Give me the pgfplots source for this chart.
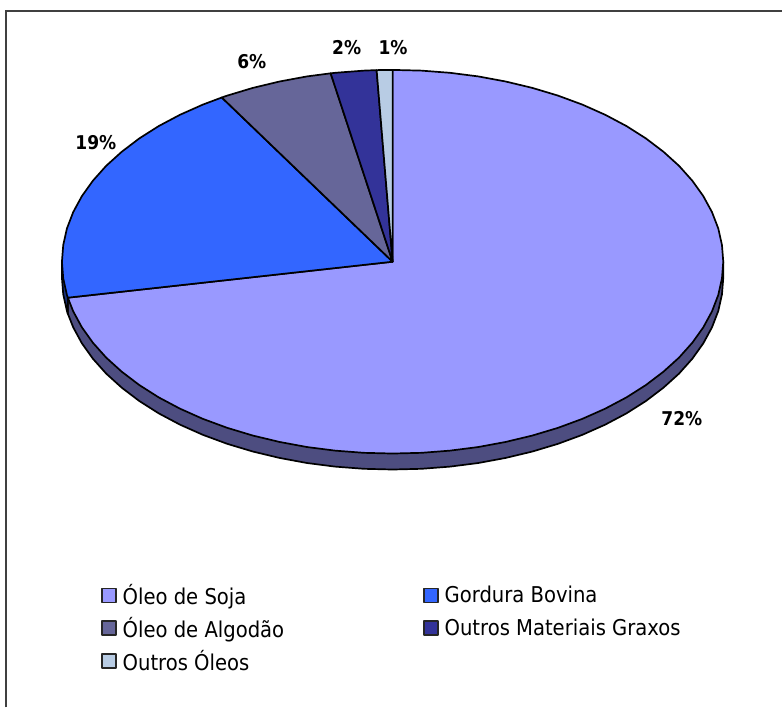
\documentclass[border=0pt]{standalone}
\usepackage{fontspec}
\setmainfont{DejaVu Sans Condensed}
\usepackage{pgfplots}
\pgfplotsset{compat=1.18}

\definecolor{soja}{HTML}{9999FF}
\definecolor{bovina}{HTML}{3366FF}
\definecolor{algodao}{HTML}{666699}
\definecolor{graxos}{HTML}{333399}
\definecolor{oleos}{HTML}{B8CCE4}
\definecolor{sojaside}{HTML}{4D4D80}
\definecolor{bovinaside}{HTML}{1A3380}

\begin{document}
\begin{tikzpicture}
\begin{axis}[
    scale only axis,
    width=783pt,
    height=708pt,
    xmin=0, xmax=783,
    ymin=0, ymax=708,
    hide axis,
    clip=false,
    legend columns=2,
    legend cell align=left,
    legend style={
        at={(axis cs:98,127)}, anchor=north west,
        draw=none, fill=none,
        font=\fontsize{21.8}{24}\selectfont,
        /tikz/every even column/.append style={column sep=133pt},
        row sep=7pt,
        nodes={inner xsep=6pt},
    },
    legend image code/.code={
        \draw[#1, draw=black!85, line width=1.6pt] (0pt,-7pt) rectangle (14pt,7pt);
    },
    every axis plot/.append style={draw=black, line width=1.7pt, line join=round},
]
% side of the disc, under the top face
\addplot[fill=sojaside, forget plot] coordinates {
    (724,446) (724,430) (722.7,413.3) (719,396.7) (712.7,380.3) (704,364.3) (693,348.9)
    (679.7,334) (664.1,319.9) (646.6,306.6) (627.1,294.2) (605.8,282.9) (582.9,272.7)
    (558.5,263.7) (532.9,256) (506.2,249.6) (478.7,244.5) (450.5,240.9) (421.8,238.7)
    (393,238) (364.2,238.7) (335.5,240.9) (307.3,244.5) (279.8,249.6) (253.1,256)
    (227.5,263.7) (203.1,272.7) (180.2,282.9) (158.9,294.2) (139.4,306.6) (121.9,319.9)
    (106.3,334) (93,348.9) (82,364.3) (73.3,380.3) (67.9,394) (67.9,410) (393,446)
} -- cycle;
\addplot[fill=bovinaside, forget plot] coordinates {
    (67.9,410) (67.9,394) (67,396.7) (63.3,413.3) (62,430) (62,446) (393,446)
} -- cycle;
% top face
\addplot[fill=soja] coordinates {
    (393,446) (393,638) (421.8,637.3) (450.5,635.1) (478.7,631.5) (506.2,626.4) (532.9,620)
    (558.5,612.3) (582.9,603.3) (605.8,593.1) (627.1,581.8) (646.6,569.4) (664.1,556.1)
    (679.7,542) (693,527.1) (704,511.7) (712.7,495.7) (719,479.3) (722.7,462.7) (724,446)
    (722.7,429.3) (719,412.7) (712.7,396.3) (704,380.3) (693,364.9) (679.7,350) (664.1,335.9)
    (646.6,322.6) (627.1,310.2) (605.8,298.9) (582.9,288.7) (558.5,279.7) (532.9,272)
    (506.2,265.6) (478.7,260.5) (450.5,256.9) (421.8,254.7) (393,254) (364.2,254.7)
    (335.5,256.9) (307.3,260.5) (279.8,265.6) (253.1,272) (227.5,279.7) (203.1,288.7)
    (180.2,298.9) (158.9,310.2) (139.4,322.6) (121.9,335.9) (106.3,350) (93,364.9)
    (82,380.3) (73.3,396.3) (67.9,410)
} -- cycle;
\addlegendentry{Óleo de Soja}
\addplot[fill=bovina] coordinates {
    (393,446) (67.9,410) (67,412.7) (63.3,429.3) (62,446) (63.3,462.7) (67,479.3) (73.3,495.7)
    (82,511.7) (93,527.1) (106.3,542) (121.9,556.1) (139.4,569.4) (158.9,581.8) (180.2,593.1)
    (203.1,603.3) (222,610.4)
} -- cycle;
\addlegendentry{Gordura Bovina}
\addplot[fill=algodao] coordinates {
    (393,446) (222,610.4) (227.5,612.3) (253.1,620) (279.8,626.4) (307.3,631.5) (331,634.6)
} -- cycle;
\addlegendentry{Óleo de Algodão}
\addplot[fill=graxos] coordinates {
    (393,446) (331,634.6) (335.5,635.1) (364.2,637.3) (377,637.8)
} -- cycle;
\addlegendentry{Outros Materiais Graxos}
\addplot[fill=oleos] coordinates {
    (393,446) (377,637.8) (393,638)
} -- cycle;
\addlegendentry{Outros Óleos}

% percent labels
\begin{scope}[every node/.style={font=\fontsize{19}{21}\selectfont\bfseries}]
\node at (axis cs:682.5,289) {72\%};
\node at (axis cs:96,565) {19\%};
\node at (axis cs:252,646) {6\%};
\node at (axis cs:347,660) {2\%};
\node at (axis cs:393.5,660) {1\%};
\end{scope}
% chart frame, only left and top fall inside the image
\draw[black!75, line width=1.6pt] (axis cs:6,0) -- (axis cs:6,697) -- (axis cs:783,697);
\path (axis cs:0,0) (axis cs:783,708);
\end{axis}
\end{tikzpicture}
\end{document}
